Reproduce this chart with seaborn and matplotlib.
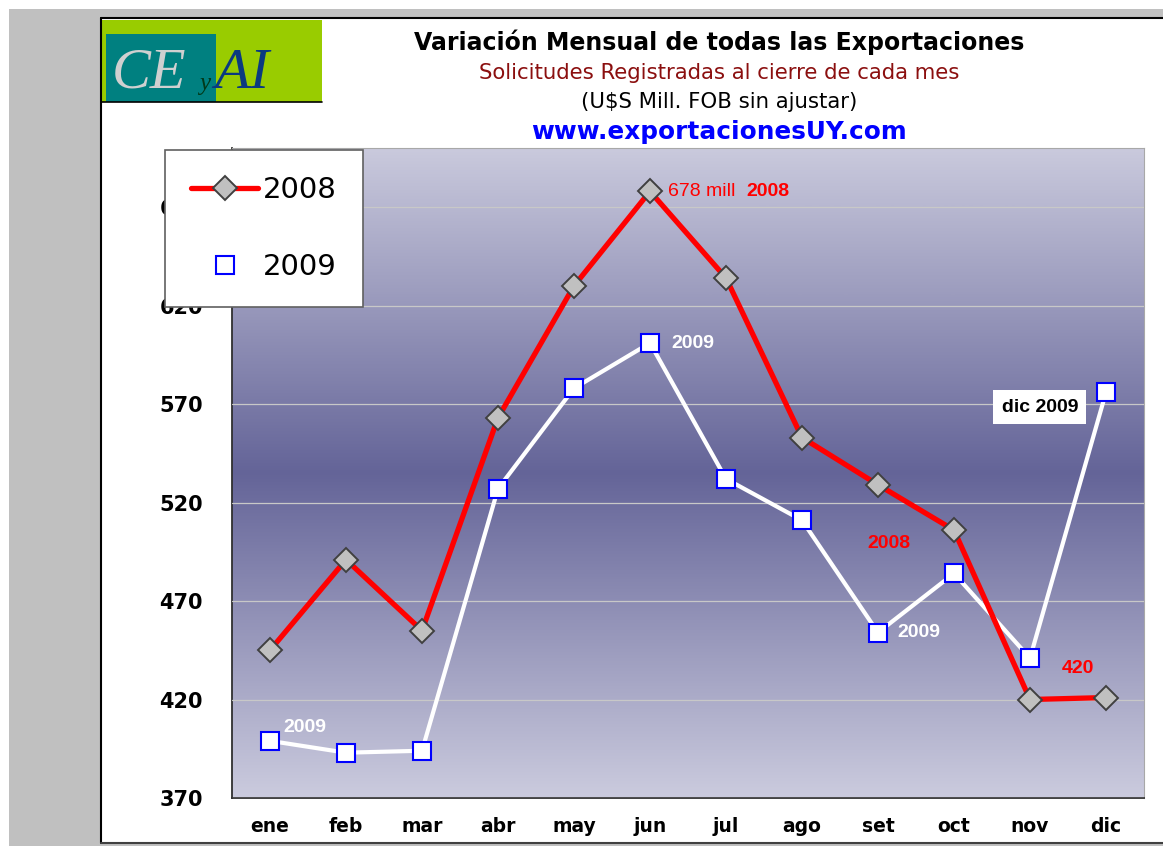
import numpy as np
import pandas as pd
import matplotlib
matplotlib.use("Agg")
import matplotlib.pyplot as plt
import seaborn as sns
from matplotlib.colors import LinearSegmentedColormap
from matplotlib.patches import Rectangle
from matplotlib.lines import Line2D

# data
meses = ["ene", "feb", "mar", "abr", "may", "jun", "jul", "ago", "set", "oct", "nov", "dic"]
valores_2008 = [445, 491, 455, 563, 630, 678, 634, 553, 529, 506, 420, 421]
valores_2009 = [399, 393, 394, 527, 578, 601, 532, 511, 454, 484, 441, 576]
y_ticks = [370, 420, 470, 520, 570, 620, 670]

df = pd.concat([
    pd.DataFrame({"mes": meses, "valor": valores_2008, "anio": "2008"}),
    pd.DataFrame({"mes": meses, "valor": valores_2009, "anio": "2009"}),
])

sns.set_style("white")
plt.rcParams["font.family"] = ["DejaVu Sans"]
plt.rcParams["text.color"] = "black"
plt.rcParams["xtick.color"] = "black"
plt.rcParams["ytick.color"] = "black"

W, H = 1163, 846
fig = plt.figure(figsize=(W / 100, H / 100), dpi=100)
fig.patch.set_facecolor("white")

# page background: grey margins and black page border
fig.patches.append(Rectangle((9 / W, 0), 92 / W, 1 - 9 / H, transform=fig.transFigure,
                             facecolor="#C0C0C0", edgecolor="none", zorder=0))
fig.patches.append(Rectangle((9 / W, 1 - 18 / H), 1, 9 / H, transform=fig.transFigure,
                             facecolor="#C0C0C0", edgecolor="none", zorder=0))
fig.patches.append(Rectangle((101 / W, 0), 1, 3 / H, transform=fig.transFigure,
                             facecolor="#C0C0C0", edgecolor="none", zorder=0))
fig.lines.append(Line2D([101 / W, 101 / W], [3 / H, 1 - 18 / H], transform=fig.transFigure,
                        color="black", lw=1.5))
fig.lines.append(Line2D([101 / W, 1], [1 - 18 / H, 1 - 18 / H], transform=fig.transFigure,
                        color="black", lw=1.5))
fig.lines.append(Line2D([101 / W, 1], [3 / H, 3 / H], transform=fig.transFigure,
                        color="#404040", lw=1.5))

# logo
fig.patches.append(Rectangle((102 / W, 1 - 102 / H), 220 / W, 82 / H, transform=fig.transFigure,
                             facecolor="#99CC00", edgecolor="none", zorder=1))
fig.patches.append(Rectangle((106 / W, 1 - 102 / H), 110 / W, 68 / H, transform=fig.transFigure,
                             facecolor="#008080", edgecolor="none", zorder=1))
fig.lines.append(Line2D([102 / W, 322 / W], [1 - 102 / H, 1 - 102 / H], transform=fig.transFigure,
                        color="black", lw=1.2))
fig.text(112 / W, 1 - 88 / H, "CE", family="Liberation Serif", style="italic", fontsize=42,
         color="#D0D0D0", ha="left", va="baseline", zorder=2)
fig.text(199 / W, 1 - 90 / H, "y", family="Liberation Serif", style="italic", fontsize=18,
         color="#003A1A", ha="left", va="baseline", zorder=2)
fig.text(214 / W, 1 - 88 / H, "AI", family="Liberation Serif", style="italic", fontsize=42,
         color="#0A3A80", ha="left", va="baseline", zorder=2)

# titles
cx = 719 / W
fig.text(cx, 1 - 42 / H, "Variación Mensual de todas las Exportaciones", fontsize=17,
         fontweight="bold", ha="center", va="center")
fig.text(cx, 1 - 73 / H, "Solicitudes Registradas al cierre de cada mes", fontsize=15.3,
         color="#8B0F0F", ha="center", va="center")
fig.text(cx, 1 - 102 / H, "(U$S Mill. FOB sin ajustar)", fontsize=15.3,
         ha="center", va="center")
fig.text(cx, 1 - 132 / H, "www.exportacionesUY.com", fontsize=17.8, fontweight="bold",
         color="#0000FF", ha="center", va="center")

ax = fig.add_axes([232 / W, 48 / H, 912 / W, 650 / H])

sns.lineplot(data=df[df["anio"] == "2008"], x="mes", y="valor", ax=ax, sort=False,
             color="#FF0000", lw=3.8, marker="D", markersize=12, markerfacecolor="#C0C0C0",
             markeredgecolor="#404040", markeredgewidth=1.4, label="2008", zorder=4)
sns.lineplot(data=df[df["anio"] == "2009"], x="mes", y="valor", ax=ax, sort=False,
             color="white", lw=3.0, marker="s", markersize=13, markerfacecolor="white",
             markeredgecolor="#0000FF", markeredgewidth=1.5, label="2009", zorder=3)

# gradient plot background
cmap = LinearSegmentedColormap.from_list(
    "fondo", [(0.0, "#CBCBDE"), (0.5, "#646498"), (1.0, "#CACADD")])
grad = np.linspace(0, 1, 256).reshape(-1, 1)
ax.imshow(grad, extent=(-0.5, 11.5, 370, 700), origin="lower", aspect="auto",
          cmap=cmap, zorder=0)

ax.set_xlim(-0.5, 11.5)
ax.set_ylim(370, 700)
ax.set_yticks(y_ticks)
ax.set_xticks(range(len(meses)))
ax.set_xticklabels(meses)
ax.set_xticks(np.arange(-0.5, 12, 1), minor=True)
ax.tick_params(axis="x", which="major", length=0, pad=14, labelsize=13.5, labelcolor="black")
ax.tick_params(axis="x", which="minor", length=7, width=1, color="#404040", direction="out")
ax.tick_params(axis="y", length=7, width=1, color="#404040", pad=14, labelsize=15,
               labelcolor="black")
for lab in ax.get_xticklabels() + ax.get_yticklabels():
    lab.set_fontweight("bold")
ax.yaxis.grid(True, color="#C8C8C8", lw=0.9, zorder=1)
ax.set_axisbelow(False)
for gl in ax.get_ygridlines():
    gl.set_zorder(1)
ax.set_xlabel("")
ax.set_ylabel("")
ax.spines["left"].set_color("#303030")
ax.spines["bottom"].set_color("#303030")
ax.spines["left"].set_linewidth(1.3)
ax.spines["bottom"].set_linewidth(1.3)
ax.spines["top"].set_color("#A8A8A8")
ax.spines["right"].set_color("#A8A8A8")

# annotations
ann = dict(family="Liberation Sans", fontsize=14, va="center", zorder=6)
ax.text(5.24, 678, "678 mill", color="#FF0000", ha="left", **ann)
ax.text(6.27, 678, "2008", color="#FF0000", ha="left", fontweight="bold", **ann)
ax.text(5.28, 601, "2009", color="white", ha="left", fontweight="bold", **ann)
ax.text(10.13, 568.5, "dic 2009", color="black", ha="center", fontweight="bold",
        bbox=dict(facecolor="white", edgecolor="none", pad=6), **ann)
ax.text(8.15, 499, "2008", color="#FF0000", ha="center", fontweight="bold", **ann)
ax.text(8.25, 454, "2009", color="white", ha="left", fontweight="bold", **ann)
ax.text(10.63, 436, "420", color="#FF0000", ha="center", fontweight="bold", **ann)
ax.text(0.18, 406, "2009", color="white", ha="left", fontweight="bold", **ann)

leg = ax.legend(loc="upper left", bbox_to_anchor=(165 / W, 1 - 150 / H),
                bbox_transform=fig.transFigure, fontsize=21, frameon=True, fancybox=False,
                edgecolor="#606060", framealpha=1, borderpad=0.9, labelspacing=1.68,
                handlelength=2.3, handletextpad=0.15, borderaxespad=0)
leg.get_frame().set_linewidth(1.2)
leg.set_zorder(10)
for t in leg.get_texts():
    t.set_color("black")

fig.savefig("out.png", dpi=100)
